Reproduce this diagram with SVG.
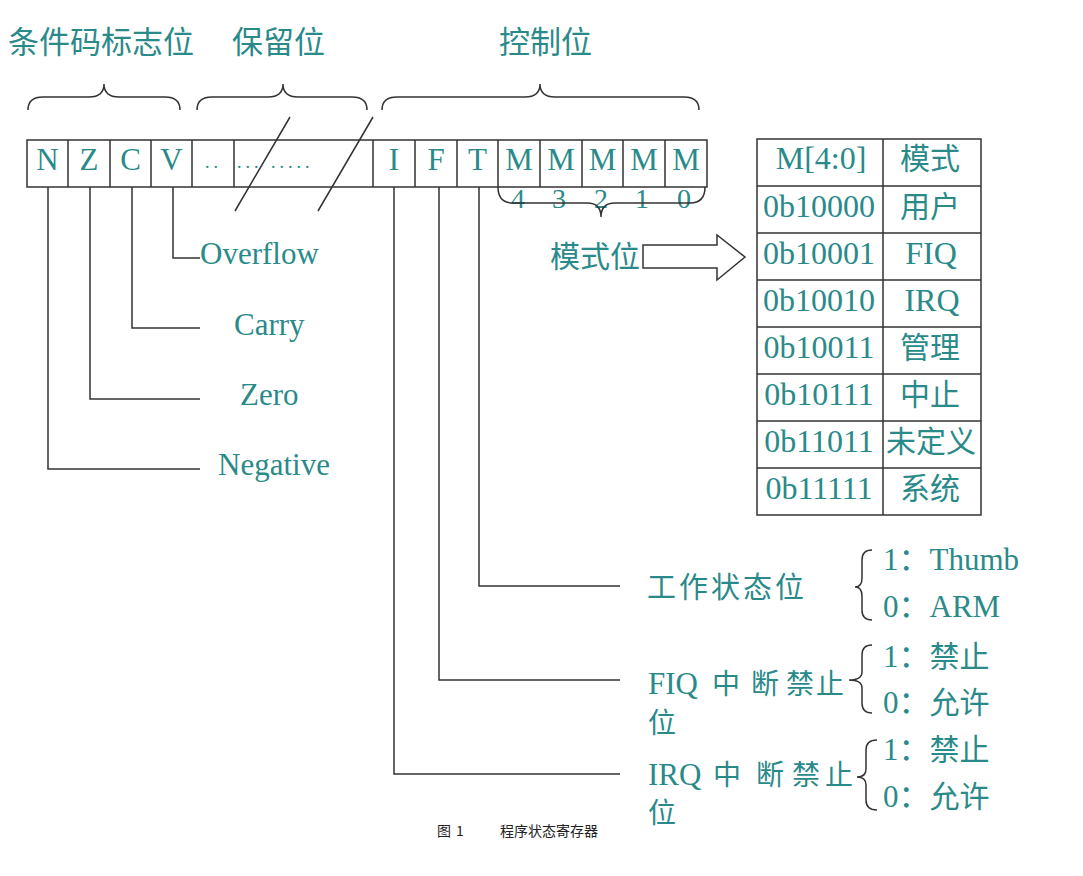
<svg xmlns="http://www.w3.org/2000/svg" width="1083" height="876" viewBox="0 0 1083 876">
<style>
.t{fill:#2a8a8a;font-family:"Liberation Serif","Noto Sans CJK SC",serif}
.c{fill:#2a8a8a;font-family:"Noto Sans CJK SC","Liberation Sans",sans-serif}
.ln{stroke:#333;stroke-width:1.5;fill:none}
.bx{stroke:#333;stroke-width:1.5;fill:#fff}
.cap{fill:#222;font-family:"Noto Sans CJK SC","Liberation Sans",sans-serif;font-size:14px}
</style>
<rect width="1083" height="876" fill="#fff"/>

<g id="titles">
<text class="c" x="8" y="53" font-size="31">条件码标志位</text>
<text class="c" x="232" y="53" font-size="31">保留位</text>
<text class="c" x="499" y="53" font-size="31">控制位</text>
</g>

<g id="braces-top">
<path class="ln" d="M28,110 Q28,97 43,97 L89,97 Q104,97 104,84 Q104,97 119,97 L165,97 Q180,97 180,110"/>
<path class="ln" d="M197,110 Q197,97 212,97 L268,97 Q283,97 283,84 Q283,97 298,97 L352,97 Q367,97 367,110"/>
<path class="ln" d="M382,110 Q382,97 397,97 L525,97 Q540,97 540,84 Q540,97 555,97 L684,97 Q699,97 699,110"/>
</g>

<g id="register">
<rect class="bx" x="27" y="140" width="680" height="47"/>
<path class="ln" d="M68,140V187M110,140V187M151,140V187M192,140V187M234,140V187M373,140V187M415,140V187M457,140V187M498,140V187M540,140V187M582,140V187M623,140V187M665,140V187"/>
<g class="t" font-size="31" text-anchor="middle">
<text x="47.5" y="170">N</text>
<text x="89" y="170">Z</text>
<text x="130.5" y="170">C</text>
<text x="171.5" y="170">V</text>
<text x="394" y="170">I</text>
<text x="436" y="170">F</text>
<text x="477.5" y="170">T</text>
<text x="519" y="170">M</text>
<text x="561" y="170">M</text>
<text x="602.5" y="170">M</text>
<text x="644" y="170">M</text>
<text x="686" y="170">M</text>
</g>
<text class="t" x="205" y="168" font-size="18" letter-spacing="4">..</text>
<text class="t" x="237" y="168" font-size="18" letter-spacing="4">... .....</text>
<g class="t" font-size="28" text-anchor="middle">
<text x="518" y="208">4</text>
<text x="559" y="208">3</text>
<text x="601" y="208">2</text>
<text x="642" y="208">1</text>
<text x="684" y="208">0</text>
</g>
<path class="ln" d="M290,117L235,211M373,117L318,211"/>
<path class="ln" d="M498,187 Q498,203 513,203 L587,203 Q601,203 601,217 Q601,203 615,203 L690,203 Q705,203 705,187"/>
</g>

<g id="connectors">
<path class="ln" d="M48,187V469H200"/>
<path class="ln" d="M90,187V399H200"/>
<path class="ln" d="M132,187V328H200"/>
<path class="ln" d="M173,187V258H200"/>
<path class="ln" d="M394,187V774H620"/>
<path class="ln" d="M439,187V680H620"/>
<path class="ln" d="M479,187V586H620"/>
<polygon class="bx" points="643,245 717,245 717,235 745,257 717,280 717,268 643,268"/>
</g>

<g id="flag-labels" class="t" font-size="31">
<text x="200" y="264">Overflow</text>
<text x="234" y="335">Carry</text>
<text x="240" y="405">Zero</text>
<text x="218" y="475">Negative</text>
</g>

<g id="mode-label">
<text class="c" x="550" y="267" font-size="30">模式位</text>
</g>

<g id="mode-table">
<rect class="bx" x="757" y="139" width="224" height="376"/>
<path class="ln" d="M883,139V515M757,186H981M757,233H981M757,280H981M757,327H981M757,374H981M757,421H981M757,468H981"/>
<g class="t" font-size="32" text-anchor="middle">
<text x="821" y="169">M[4:0]</text>
<text x="819" y="217">0b10000</text>
<text x="819" y="264">0b10001</text>
<text x="819" y="311">0b10010</text>
<text x="819" y="358">0b10011</text>
<text x="819" y="405">0b10111</text>
<text x="819" y="452">0b11011</text>
<text x="819" y="499">0b11111</text>
<text x="931" y="264">FIQ</text>
<text x="932" y="311">IRQ</text>
</g>
<g class="c" font-size="30" text-anchor="middle">
<text x="930" y="169">模式</text>
<text x="930" y="217">用户</text>
<text x="930" y="358">管理</text>
<text x="930" y="405">中止</text>
<text x="931" y="452">未定义</text>
<text x="930" y="499">系统</text>
</g>
</g>

<g id="t-bit">
<text class="c" x="647" y="598" font-size="29" letter-spacing="3">工作状态位</text>
<path class="ln" d="M872,550 Q862,550 862,560 L862,578 Q862,587 855,587 Q862,587 862,596 L862,610 Q862,620 872,620"/>
<text class="t" x="883" y="570" font-size="31">1：Thumb</text>
<text class="t" x="883" y="617" font-size="31">0：ARM</text>
</g>

<g id="f-bit">
<text class="t" x="648" y="694" font-size="31">FIQ</text>
<text class="c" y="694" font-size="28" x="712">中</text>
<text class="c" y="694" font-size="28" x="751">断</text>
<text class="c" y="694" font-size="28" x="786">禁</text>
<text class="c" y="694" font-size="28" x="816">止</text>
<text class="c" x="648" y="733" font-size="28">位</text>
<path class="ln" d="M872,645 Q862,645 862,655 L862,672 Q862,680 849,680 Q862,680 862,688 L862,703 Q862,713 872,713"/>
<text class="t" x="883" y="667" font-size="31">1：<tspan class="c" font-size="30">禁止</tspan></text>
<text class="t" x="883" y="713" font-size="31">0：<tspan class="c" font-size="30">允许</tspan></text>
</g>

<g id="i-bit">
<text class="t" x="648" y="785" font-size="31">IRQ</text>
<text class="c" y="785" font-size="28" x="713">中</text>
<text class="c" y="785" font-size="28" x="756">断</text>
<text class="c" y="785" font-size="28" x="792">禁</text>
<text class="c" y="785" font-size="28" x="825">止</text>
<text class="c" x="648" y="823" font-size="28">位</text>
<path class="ln" d="M877,740 Q866,740 866,750 L866,769 Q866,777 857,777 Q866,777 866,785 L866,800 Q866,810 877,810"/>
<text class="t" x="883" y="760" font-size="31">1：<tspan class="c" font-size="30">禁止</tspan></text>
<text class="t" x="883" y="807" font-size="31">0：<tspan class="c" font-size="30">允许</tspan></text>
</g>

<g id="caption">
<text class="cap" x="437" y="836">图</text>
<text class="cap" x="456" y="836">1</text>
<text class="cap" x="500" y="836">程序状态寄存器</text>
</g>
</svg>
